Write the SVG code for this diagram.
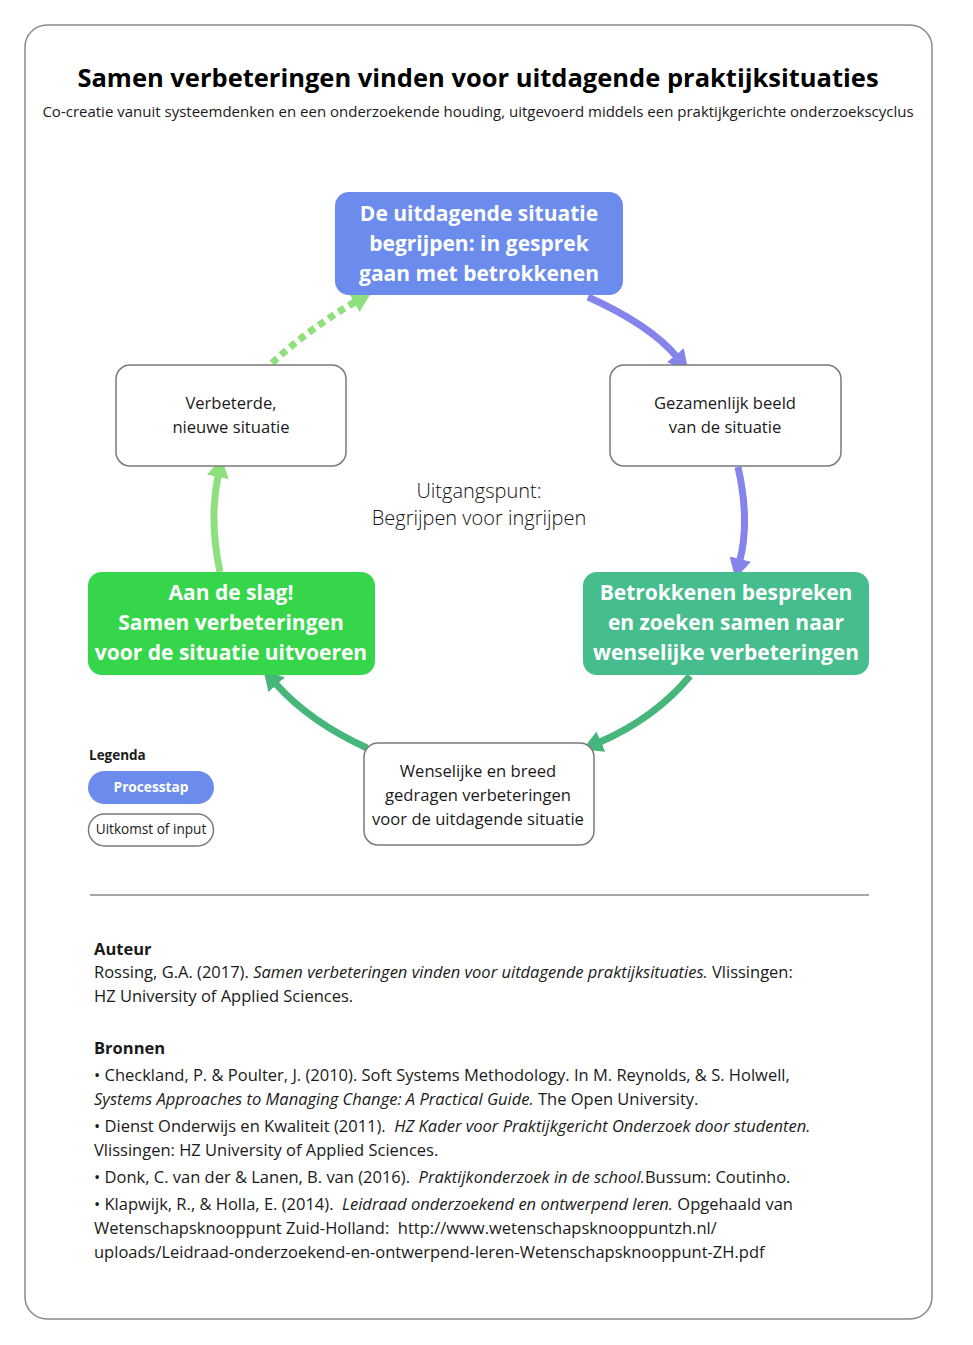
<svg xmlns="http://www.w3.org/2000/svg" width="973" height="1345" viewBox="0 0 973 1345">
<defs>
<style>
text{font-family:"Open Sans","Noto Sans","DejaVu Sans",sans-serif;fill:#1a1a1a}
.title{font-size:25.5px;font-weight:700;fill:#000}
.sub{font-size:15px}
.pt{font-size:21px;font-weight:700;fill:#fff;text-anchor:middle}
.box{fill:#fff;stroke:#7a7a7a;stroke-width:1.5}
.bt{font-size:16.6px;text-anchor:middle}
.ref{font-size:16.5px;white-space:pre}
.arrow{fill:none;stroke-width:7}
</style>
<marker id="mp" viewBox="0 0 20 22" refX="1" refY="11" markerWidth="20" markerHeight="22" markerUnits="userSpaceOnUse" orient="auto"><path d="M0,0 L20,11 L0,22 z" fill="#8484ea"/></marker>
<marker id="mg" viewBox="0 0 20 22" refX="1" refY="11" markerWidth="20" markerHeight="22" markerUnits="userSpaceOnUse" orient="auto"><path d="M0,0 L20,11 L0,22 z" fill="#47b67b"/></marker>
<marker id="ml" viewBox="0 0 20 22" refX="1" refY="11" markerWidth="20" markerHeight="22" markerUnits="userSpaceOnUse" orient="auto"><path d="M0,0 L20,11 L0,22 z" fill="#8ee07c"/></marker>
</defs>
<rect x="25" y="25" width="907" height="1294" rx="22" fill="#fff" stroke="#8a8a8a" stroke-width="1.5"/>
<text class="title" x="478" y="87" text-anchor="middle">Samen verbeteringen vinden voor uitdagende praktijksituaties</text>
<text class="sub" x="478" y="117" text-anchor="middle">Co-creatie vanuit systeemdenken en een onderzoekende houding, uitgevoerd middels een praktijkgerichte onderzoekscyclus</text>

<g id="connectors">
<path class="arrow" stroke="#8484ea" d="M588,297 Q650,325 676,356" marker-end="url(#mp)"/>
<path class="arrow" stroke="#8484ea" d="M738,467 Q750,520 740,560" marker-end="url(#mp)"/>
<path class="arrow" stroke="#47b67b" d="M690,676 Q655,718 600,742" marker-end="url(#mg)"/>
<path class="arrow" stroke="#47b67b" d="M367,748 Q310,722 276,684" marker-end="url(#mg)"/>
<path class="arrow" stroke="#8ee07c" d="M220,572 Q209,520 218,476" marker-end="url(#ml)"/>
<path class="arrow" stroke="#8ee07c" stroke-dasharray="7 5" d="M272,363 Q310,328 355,302" marker-end="url(#ml)"/>
</g>

<g id="n-begrijpen">
<rect x="335" y="192" width="288" height="103" rx="14" fill="#6b8cec"/>
<text class="pt" x="479" y="221">De uitdagende situatie</text>
<text class="pt" x="479" y="251">begrijpen: in gesprek</text>
<text class="pt" x="479" y="281">gaan met betrokkenen</text>
</g>
<g id="n-beeld">
<rect class="box" x="610" y="365" width="231" height="101" rx="14"/>
<text class="bt" x="725" y="409">Gezamenlijk beeld</text>
<text class="bt" x="725" y="433">van de situatie</text>
</g>
<g id="n-bespreken">
<rect x="583" y="572" width="286" height="103" rx="14" fill="#45bd8c"/>
<text class="pt" x="726" y="600">Betrokkenen bespreken</text>
<text class="pt" x="726" y="630">en zoeken samen naar</text>
<text class="pt" x="726" y="660">wenselijke verbeteringen</text>
</g>
<g id="n-wenselijk">
<rect class="box" x="364" y="743" width="230" height="102" rx="14"/>
<text class="bt" x="478" y="777">Wenselijke en breed</text>
<text class="bt" x="478" y="801">gedragen verbeteringen</text>
<text class="bt" x="478" y="825">voor de uitdagende situatie</text>
</g>
<g id="n-aandeslag">
<rect x="88" y="572" width="287" height="103" rx="14" fill="#35d64a"/>
<text class="pt" x="231" y="600">Aan de slag!</text>
<text class="pt" x="231" y="630">Samen verbeteringen</text>
<text class="pt" x="231" y="660">voor de situatie uitvoeren</text>
</g>
<g id="n-verbeterde">
<rect class="box" x="116" y="365" width="230" height="101" rx="14"/>
<text class="bt" x="231" y="409">Verbeterde,</text>
<text class="bt" x="231" y="433">nieuwe situatie</text>
</g>
<g id="center-label">
<text x="479" y="498" font-size="20" font-weight="350" text-anchor="middle" style="fill:#111">Uitgangspunt:</text>
<text x="479" y="525" font-size="20" font-weight="350" text-anchor="middle" style="fill:#111">Begrijpen voor ingrijpen</text>
</g>

<g id="legend">
<text x="89" y="760" font-size="13.5" font-weight="700" fill="#000">Legenda</text>
<rect x="88" y="771" width="126" height="33" rx="16.5" fill="#6b8cec"/>
<text x="151" y="792" font-size="13.7" font-weight="700" text-anchor="middle" style="fill:#fff">Processtap</text>
<rect class="box" x="88.5" y="814" width="125" height="32" rx="16"/>
<text x="151" y="834" font-size="13.6" text-anchor="middle">Uitkomst of input</text>
</g>

<line x1="90" y1="895" x2="869" y2="895" stroke="#8a8a8a" stroke-width="1.5"/>

<g id="references">
<text class="ref" x="94" y="955" font-weight="700" fill="#000">Auteur</text>
<text class="ref" x="94" y="978">Rossing, G.A. (2017). <tspan font-style="italic">Samen verbeteringen vinden voor uitdagende praktijksituaties.</tspan> Vlissingen:</text>
<text class="ref" x="94" y="1002">HZ University of Applied Sciences.</text>
<text class="ref" x="94" y="1054" font-weight="700" fill="#000">Bronnen</text>
<text class="ref" x="94" y="1081">• Checkland, P. &amp; Poulter, J. (2010). Soft Systems Methodology. In M. Reynolds, &amp; S. Holwell,</text>
<text class="ref" x="94" y="1105"><tspan font-style="italic">Systems Approaches to Managing Change: A Practical Guide.</tspan> The Open University.</text>
<text class="ref" x="94" y="1132">• Dienst Onderwijs en Kwaliteit (2011).  <tspan font-style="italic">HZ Kader voor Praktijkgericht Onderzoek door studenten.</tspan></text>
<text class="ref" x="94" y="1156">Vlissingen: HZ University of Applied Sciences.</text>
<text class="ref" x="94" y="1183">• Donk, C. van der &amp; Lanen, B. van (2016).  <tspan font-style="italic">Praktijkonderzoek in de school.</tspan>Bussum: Coutinho.</text>
<text class="ref" x="94" y="1210">• Klapwijk, R., &amp; Holla, E. (2014).  <tspan font-style="italic">Leidraad onderzoekend en ontwerpend leren.</tspan> Opgehaald van</text>
<text class="ref" x="94" y="1234">Wetenschapsknooppunt Zuid-Holland:  http://www.wetenschapsknooppuntzh.nl/</text>
<text class="ref" x="94" y="1258">uploads/Leidraad-onderzoekend-en-ontwerpend-leren-Wetenschapsknooppunt-ZH.pdf</text>
</g>
</svg>
